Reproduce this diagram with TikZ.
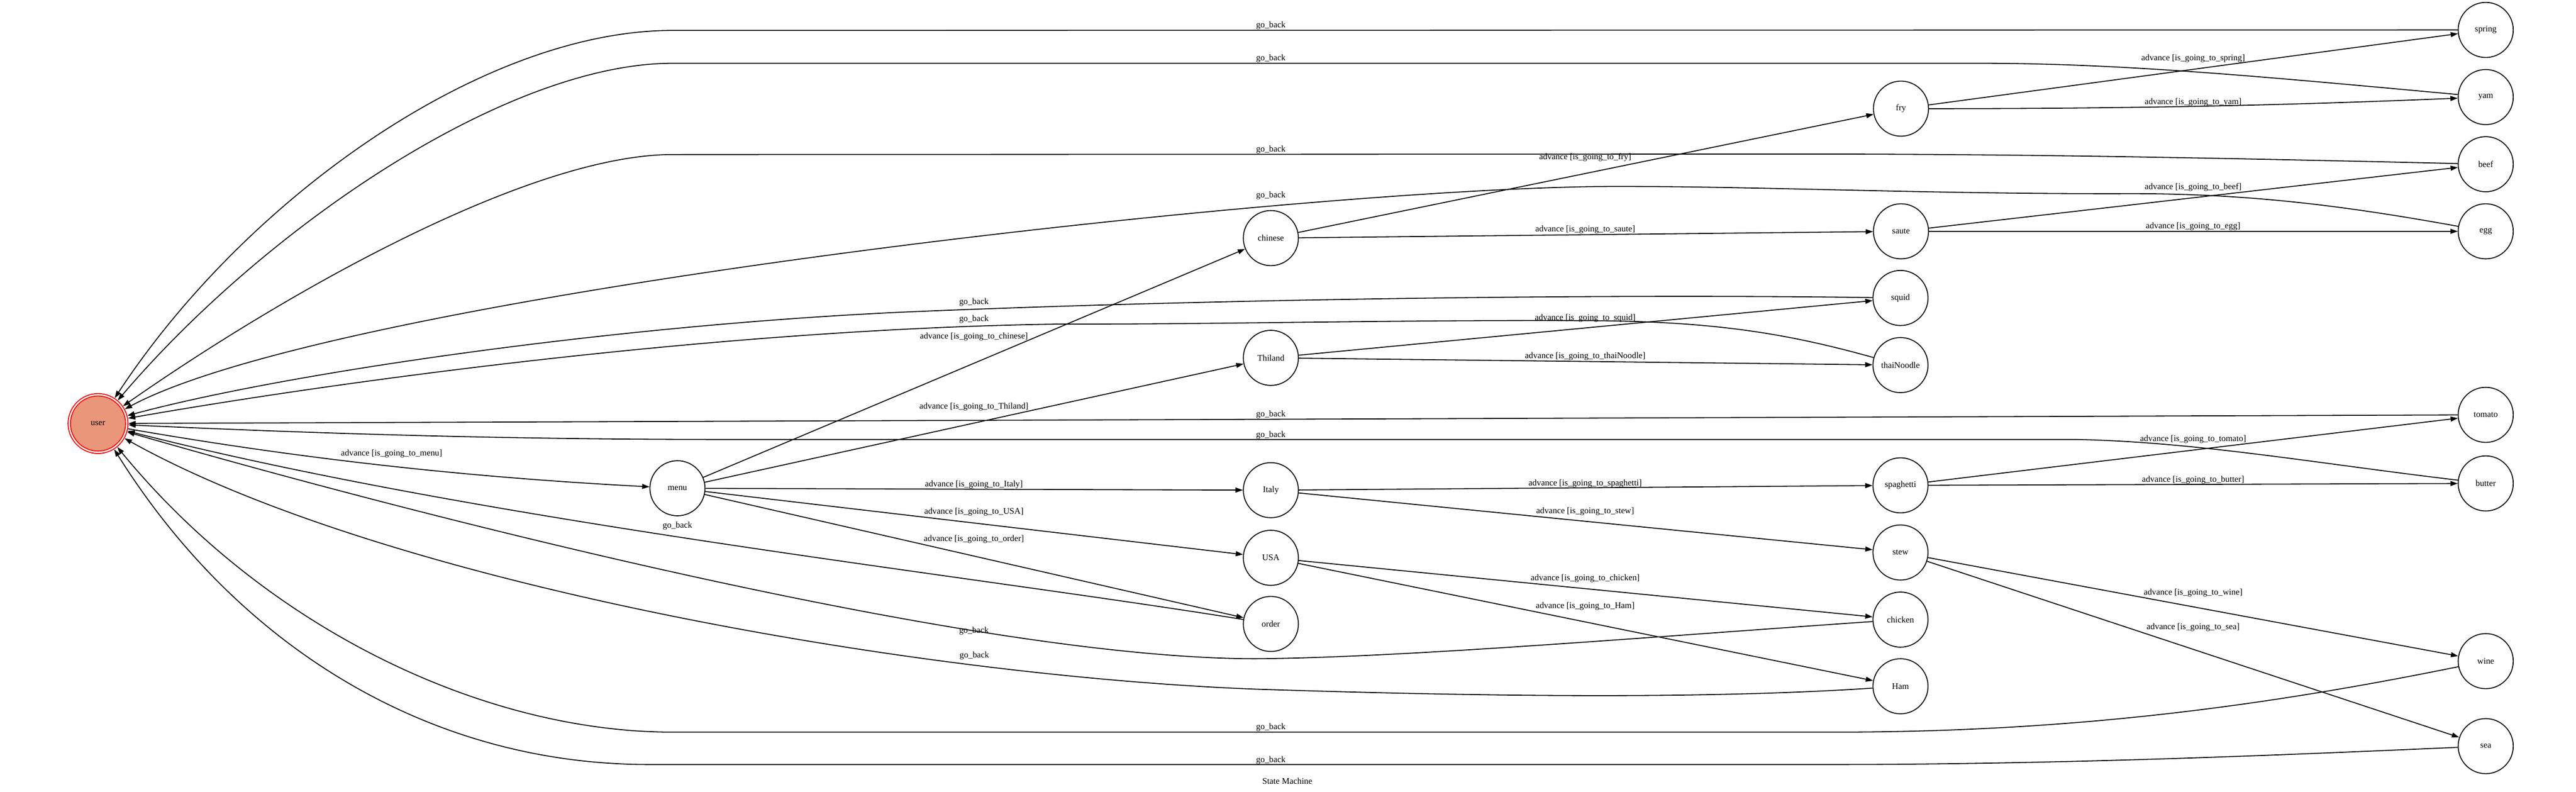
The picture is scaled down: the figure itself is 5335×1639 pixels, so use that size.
\documentclass[tikz,border=0pt]{standalone}
\usepackage{fontspec}
\setmainfont{Liberation Serif}
\usetikzlibrary{arrows.meta}
\definecolor{dsalmon}{RGB}{233,150,122}
\newcommand\gvfont{\fontsize{5.12pt}{6pt}\selectfont}
\begin{document}
\begin{tikzpicture}[x=0.01cm,y=-0.01cm,
  st/.style={circle, draw, line width=0.55pt, minimum size=1.14cm, inner sep=0pt, font=\gvfont},
  lbl/.style={inner sep=0pt, font=\gvfont},
  edg/.style={line width=0.55pt, -{Triangle[length=4.3pt,width=2.9pt]}},
]
\useasboundingbox (0,0) rectangle (5335,1639);
% nodes
\node[circle, draw=red, line width=0.55pt, minimum size=1.24cm, inner sep=0pt] (user) at (203,877) {};
\node[st, draw=red, fill=dsalmon] (userin) at (user.center) {user};
\node[st] (menu) at (1403,1011) {menu};
\node[st] (chinese) at (2632,493) {chinese};
\node[st] (Thiland) at (2632,741) {Thiland};
\node[st] (Italy) at (2632,1015) {Italy};
\node[st] (USA) at (2632,1155) {USA};
\node[st] (order) at (2632,1292) {order};
\node[st] (fry) at (3937,225) {fry};
\node[st] (saute) at (3937,479) {saute};
\node[st] (squid) at (3936,617) {squid};
\node[st] (thaiNoodle) at (3936,756) {thaiNoodle};
\node[st] (spaghetti) at (3936,1005) {spaghetti};
\node[st] (stew) at (3936,1144) {stew};
\node[st] (chicken) at (3936,1283) {chicken};
\node[st] (Ham) at (3936,1421) {Ham};
\node[st] (spring) at (5148,62) {spring};
\node[st] (yam) at (5148,201) {yam};
\node[st] (beef) at (5148,340) {beef};
\node[st] (egg) at (5148,479) {egg};
\node[st] (tomato) at (5148,859) {tomato};
\node[st] (butter) at (5148,1001) {butter};
\node[st] (wine) at (5148,1369) {wine};
\node[st] (sea) at (5148,1545) {sea};

% advance edges
\draw[edg] (user) .. controls (650,955) and (1000,990) .. (menu);
\draw[edg] (menu) -- (chinese);
\draw[edg] (menu) -- (Thiland);
\draw[edg] (menu) -- (Italy);
\draw[edg] (menu) -- (USA);
\draw[edg] (menu) -- (order);
\draw[edg] (chinese) -- (fry);
\draw[edg] (chinese) -- (saute);
\draw[edg] (Thiland) -- (squid);
\draw[edg] (Thiland) -- (thaiNoodle);
\draw[edg] (Italy) -- (spaghetti);
\draw[edg] (Italy) -- (stew);
\draw[edg] (USA) -- (chicken);
\draw[edg] (USA) -- (Ham);
\draw[edg] (fry) -- (spring);
\draw[edg] (fry) .. controls (4500,225) and (4800,215) .. (yam);
\draw[edg] (saute) -- (beef);
\draw[edg] (saute) -- (egg);
\draw[edg] (spaghetti) -- (tomato);
\draw[edg] (spaghetti) -- (butter);
\draw[edg] (stew) -- (wine);
\draw[edg] (stew) -- (sea);

% go_back edges
\draw[edg] (spring) -- (1393,63) .. controls (1000,63) and (510,410) .. (user);
\draw[edg] (yam) .. controls (4700,160) and (4400,131) .. (4100,131) -- (1393,131) .. controls (1050,131) and (550,470) .. (user);
\draw[edg] (beef) .. controls (4500,325) and (4200,320) .. (3800,319) -- (1393,320) .. controls (1100,320) and (600,600) .. (user);
\draw[edg] (egg) .. controls (4850,425) and (4650,400) .. (4400,401) .. controls (4000,402) and (3650,386) .. (3350,386) .. controls (2700,386) and (700,610) .. (user);
\draw[edg] (squid) .. controls (3300,608) and (2500,620) .. (1900,645) .. controls (1300,670) and (600,770) .. (user);
\draw[edg] (thaiNoodle) .. controls (3700,690) and (3550,666) .. (3300,664) .. controls (2900,662) and (2500,672) .. (2200,671) .. controls (1500,680) and (700,790) .. (user);
\draw[edg] (tomato) -- (user);
\draw[edg] (butter) .. controls (4800,960) and (4550,915) .. (4300,910) -- (1500,910) .. controls (1000,910) and (600,895) .. (user);
\draw[edg] (order) .. controls (2000,1190) and (1000,1080) .. (user);
\draw[edg] (chicken) .. controls (3400,1320) and (2900,1362) .. (2600,1364) .. controls (2000,1364) and (800,1050) .. (user);
\draw[edg] (Ham) .. controls (3500,1450) and (3000,1440) .. (2600,1427) .. controls (1900,1400) and (800,1210) .. (user);
\draw[edg] (wine) .. controls (4700,1460) and (4300,1516) .. (3800,1516) -- (1393,1516) .. controls (1000,1516) and (550,1300) .. (user);
\draw[edg] (sea) .. controls (4800,1560) and (4300,1583) .. (3800,1583) -- (1343,1583) .. controls (900,1583) and (500,1350) .. (user);

% advance labels
\node[lbl] (lmenu) at (811,939) {advance [is\_going\_to\_menu]};
\node[lbl] (lchinese) at (2017,697) {advance [is\_going\_to\_chinese]};
\node[lbl] (lthiland) at (2017,842) {advance [is\_going\_to\_Thiland]};
\node[lbl] (litaly) at (2017,1003) {advance [is\_going\_to\_Italy]};
\node[lbl] (lusa) at (2017,1060) {advance [is\_going\_to\_USA]};
\node[lbl] (lorder) at (2017,1117) {advance [is\_going\_to\_order]};
\node[lbl] (lfry) at (3283,326) {advance [is\_going\_to\_fry]};
\node[lbl] (lsaute) at (3283,475) {advance [is\_going\_to\_saute]};
\node[lbl] (lsquid) at (3283,659) {advance [is\_going\_to\_squid]};
\node[lbl] (lthai) at (3283,738) {advance [is\_going\_to\_thaiNoodle]};
\node[lbl] (lspag) at (3283,1001) {advance [is\_going\_to\_spaghetti]};
\node[lbl] (lstew) at (3283,1059) {advance [is\_going\_to\_stew]};
\node[lbl] (lchicken) at (3283,1198) {advance [is\_going\_to\_chicken]};
\node[lbl] (lham) at (3283,1255) {advance [is\_going\_to\_Ham]};
\node[lbl] (lspring) at (4542,121) {advance [is\_going\_to\_spring]};
\node[lbl] (lyam) at (4542,212) {advance [is\_going\_to\_yam]};
\node[lbl] (lbeef) at (4542,388) {advance [is\_going\_to\_beef]};
\node[lbl] (legg) at (4542,469) {advance [is\_going\_to\_egg]};
\node[lbl] (ltomato) at (4542,910) {advance [is\_going\_to\_tomato]};
\node[lbl] (lbutter) at (4542,994) {advance [is\_going\_to\_butter]};
\node[lbl] (lwine) at (4542,1227) {advance [is\_going\_to\_wine]};
\node[lbl] (lsea) at (4542,1299) {advance [is\_going\_to\_sea]};

% go_back labels
\node[lbl] (gspring) at (2632,53) {go\_back};
\node[lbl] (gyam) at (2632,121) {go\_back};
\node[lbl] (gbeef) at (2632,310) {go\_back};
\node[lbl] (gegg) at (2632,405) {go\_back};
\node[lbl] (gsquid) at (2017,626) {go\_back};
\node[lbl] (gthai) at (2017,661) {go\_back};
\node[lbl] (gtomato) at (2632,858) {go\_back};
\node[lbl] (gbutter) at (2632,901) {go\_back};
\node[lbl] (gorder) at (1403,1089) {go\_back};
\node[lbl] (gchicken) at (2017,1306) {go\_back};
\node[lbl] (gham) at (2018,1358) {go\_back};
\node[lbl] (gwine) at (2632,1506) {go\_back};
\node[lbl] (gsea) at (2632,1574) {go\_back};

\node[lbl] (title) at (2666,1617) {State Machine};
\end{tikzpicture}
\end{document}
